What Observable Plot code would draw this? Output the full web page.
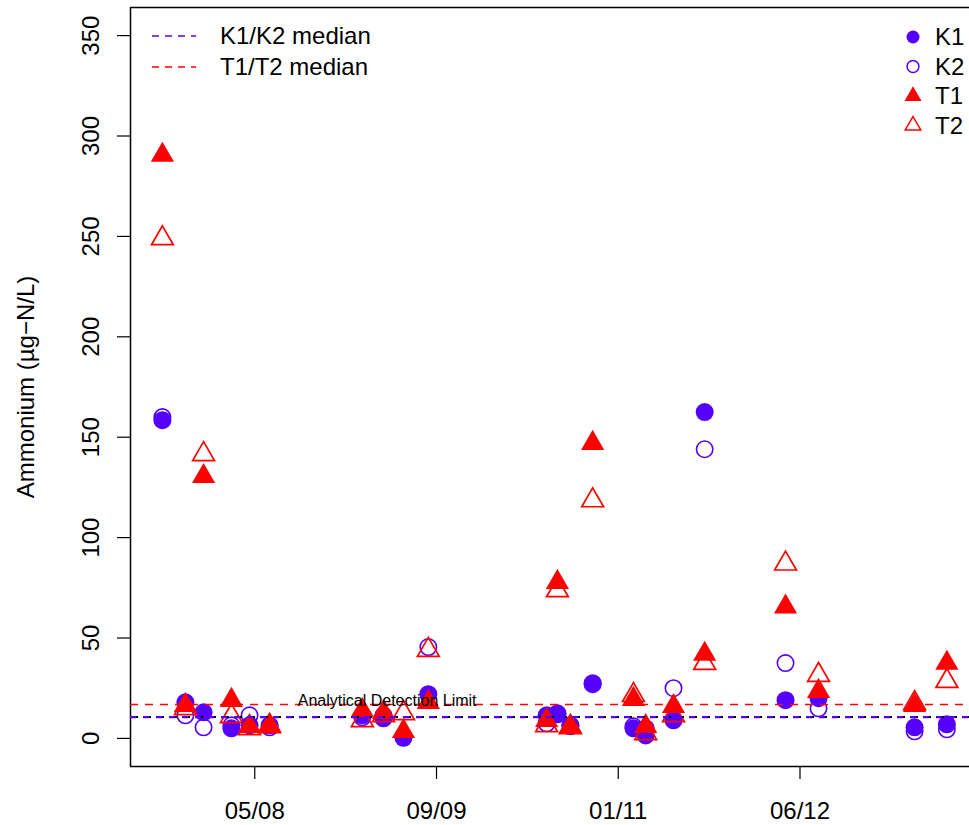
<!DOCTYPE html>
<html><head><meta charset="utf-8">
<script src="https://cdn.jsdelivr.net/npm/d3@7"></script>
<script src="https://cdn.jsdelivr.net/npm/@observablehq/plot@0.6"></script>
<style>
html,body{margin:0;padding:0;background:#fff;overflow:hidden}
#chart{position:relative;width:969px;height:825px}
</style></head><body><div id="chart"></div>
<script>
// ---- data ----
const sampleDates = [
  "2007-09-19","2007-11-20","2008-01-08","2008-03-23","2008-05-11","2008-07-04",
  "2009-03-11","2009-05-07","2009-06-30","2009-09-05",
  "2010-07-21","2010-08-19","2010-09-23","2010-11-22",
  "2011-03-12","2011-04-14","2011-06-28","2011-09-20",
  "2012-04-25","2012-07-23","2013-04-08","2013-07-04"
];
const K1 = [158.5, 18, 13, 5, 6.5, 6.5,  11.5, 10, 0.3, 22,  11.5, 12.5, 6.5, 27.5,  5, 1.5, 9, 162.5,  19, 20, 5.5, 7];
const K2 = [160, 11.5, 5.5, 6.5, 11.5, 5.5,  10.5, 11.5, 1, 45.5,  7.5, 12, 6, 27,  6, 5, 25, 144,  37.5, 15, 3.5, 4.5];
const T1 = [290.5, 16.5, 130.5, 19, 6, 6.5,  14, 13, 3.5, 18,  9, 77.7, 6, 147,  19.5, 6, 16, 42,  65.5, 23.5, 16.5, 37.5];
const T2 = [249, 15, 141.5, 11, 5, 6,  9, 11.5, 12.5, 44,  6.5, 73.7, 5.5, 118.5,  21.5, 2.5, 11.5, 37.5,  87, 31.5, 17.5, 28.5];
const seriesNames = ["K1", "K2", "T1", "T2"];
const medianNames = ["K1/K2 median", "T1/T2 median"];
const medianK = 10.6;
const medianT = 16.9;
const detectionLimit = 10.6;
const detectionLabel = "Analytical Detection Limit";
const detectionLabelDate = "2009-05-17";
const yTicks = [0, 50, 100, 150, 200, 250, 300, 350];
const xTickDates = ["2008-05-25", "2009-09-27", "2011-01-30", "2012-06-03"];
const xTickLabels = ["05/08", "09/09", "01/11", "06/12"];
const yLabel = "Ammonium (µg−N/L)";

// ---- drawing ----
const parse = d3.utcParse("%Y-%m-%d");
const BLUE = "#5500ff", RED = "#ff0000";
const FONT = "'Liberation Sans', Arial, Helvetica, sans-serif";
const rows = s => sampleDates.map((d, i) => ({date: parse(d), value: s[i]}));
const xDomain = [parse("2007-06-25"), parse("2013-09-03")];
const yDomain = [-14, 364];
const tickDates = xTickDates.map(parse);
const labelFor = d => xTickLabels[tickDates.findIndex(t => +t === +d)];

const chart = Plot.plot({
  width: 969, height: 825,
  marginLeft: 130, marginTop: 7, marginBottom: 59, marginRight: 0,
  style: {fontFamily: FONT, background: "white", color: "black"},
  x: {type: "utc", domain: xDomain},
  y: {domain: yDomain},
  marks: [
    Plot.ruleY(yDomain, {stroke: "black", strokeWidth: 1.5}),
    Plot.ruleX([xDomain[0]], {stroke: "black", strokeWidth: 1.5}),
    Plot.axisY({ticks: yTicks, tickSize: 13, tickPadding: 19, tickRotate: -90, fontSize: 24, label: null, strokeWidth: 1.2}),
    Plot.axisX({ticks: tickDates, tickFormat: labelFor, tickSize: 13, tickPadding: 22, fontSize: 24, label: null, strokeWidth: 1.2}),
    Plot.text([yLabel], {frameAnchor: "left", dx: -104, rotate: -90, fontSize: 24, textAnchor: "middle", lineAnchor: "middle"}),
    Plot.dot(rows(K1), {x: "date", y: "value", r: 9, fill: BLUE, stroke: null, symbol: "circle"}),
    Plot.dot(rows(K2), {x: "date", y: "value", r: 8.2, fill: "none", stroke: BLUE, strokeWidth: 1.6, symbol: "circle"}),
    Plot.dot(rows(T1), {x: "date", y: "value", r: 8.6, fill: RED, stroke: null, symbol: "triangle"}),
    Plot.dot(rows(T2), {x: "date", y: "value", r: 8.1, fill: "none", stroke: RED, strokeWidth: 1.7, symbol: "triangle"}),
    Plot.ruleY([medianT], {stroke: RED, strokeDasharray: "8,7", strokeWidth: 1.5}),
    Plot.ruleY([detectionLimit], {stroke: "black", strokeDasharray: "8,5", strokeWidth: 2}),
    Plot.ruleY([medianK], {stroke: BLUE, strokeDasharray: "6,7", strokeWidth: 2.2}),
    Plot.text([detectionLabel], {x: () => parse(detectionLabelDate), y: () => detectionLimit, dy: -10.7, lineAnchor: "bottom", textAnchor: "middle", fontSize: 16, fill: "black"})
  ]
});
document.getElementById("chart").appendChild(chart);

// ---- legends ----
const svg = d3.select(chart);
const legL = svg.append("g").attr("font-family", FONT).attr("font-size", 24).attr("text-anchor", "start");
[BLUE, RED].forEach((c, i) => {
  const y = 36 + i * 31;
  legL.append("line").attr("x1", 152).attr("x2", 196).attr("y1", y).attr("y2", y)
    .attr("stroke", c).attr("stroke-width", 1.5).attr("stroke-dasharray", "7,6");
  legL.append("text").attr("x", 220).attr("y", y).attr("dy", "0.35em").text(medianNames[i]);
});
const legR = svg.append("g").attr("font-family", FONT).attr("font-size", 24).attr("text-anchor", "start");
const legStyles = [
  {type: d3.symbolCircle, size: 133, fill: BLUE, stroke: "none"},
  {type: d3.symbolCircle, size: 110, fill: "none", stroke: BLUE},
  {type: d3.symbolTriangle, size: 125, fill: RED, stroke: "none"},
  {type: d3.symbolTriangle, size: 105, fill: "none", stroke: RED}
];
legStyles.forEach((s, i) => {
  const y = 37 + i * 29.5;
  legR.append("path").attr("transform", `translate(913,${y})`)
    .attr("d", d3.symbol(s.type, s.size)()).attr("fill", s.fill).attr("stroke", s.stroke).attr("stroke-width", 1.5);
  legR.append("text").attr("x", 935).attr("y", y).attr("dy", "0.35em").text(seriesNames[i]);
});
</script></body></html>
